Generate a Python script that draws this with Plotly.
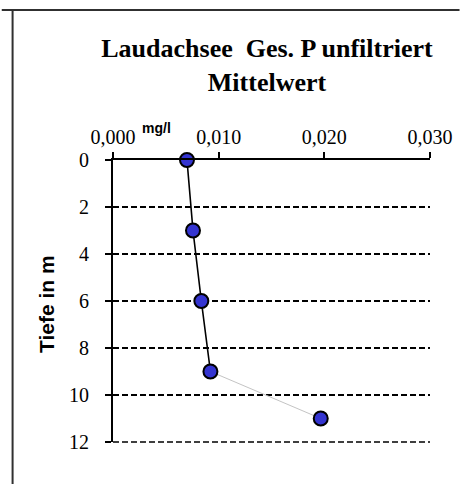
import plotly.graph_objects as go

# Data
depth_m = [0, 3, 6, 9, 11]
p_mgl = [0.0070, 0.00757, 0.00836, 0.00922, 0.01966]
x_ticks = [0.0, 0.01, 0.02, 0.03]
y_ticks = [0, 2, 4, 6, 8, 10, 12]
title_text = "<b>Laudachsee  Ges. P unfiltriert<br>Mittelwert</b>"
unit_text = "<b>mg/l</b>"
ytitle_text = "<b>Tiefe in m</b>"

SERIF = "Liberation Serif, Times New Roman, serif"
SANS = "Liberation Sans, Arial, sans-serif"

W, H = 465, 484
L, R, T, B = 113, 30, 160, 42
pw, ph = W - L - R, H - T - B

def px_to_paper_x(px):
    return (px - L) / pw

def px_to_paper_y(py):
    return (H - B - py) / ph

fig = go.Figure()

# black line through first four points
fig.add_trace(go.Scatter(x=p_mgl[:4], y=depth_m[:4], mode="lines",
                         line=dict(color="black", width=1.6), hoverinfo="skip",
                         showlegend=False))
# light grey segment to the last point
fig.add_trace(go.Scatter(x=p_mgl[3:], y=depth_m[3:], mode="lines",
                         line=dict(color="#c4c4c4", width=1), hoverinfo="skip",
                         showlegend=False))
# markers
fig.add_trace(go.Scatter(x=p_mgl, y=depth_m, mode="markers",
                         marker=dict(size=14, color="#3434d0", symbol="circle",
                                     line=dict(color="black", width=2)),
                         showlegend=False, cliponaxis=False))

fig.update_layout(
    width=W, height=H,
    margin=dict(l=L, r=R, t=T, b=B, pad=0),
    paper_bgcolor="white", plot_bgcolor="white",
    separators=",.",
    showlegend=False,
    title=dict(text=title_text, x=267 / W, xanchor="center", xref="container",
               y=1 - 57 / H, yanchor="top",
               font=dict(family=SERIF, size=26, color="black")),
    xaxis=dict(side="top", range=[0, 0.03], tickvals=x_ticks, tickformat=".3f",
               showgrid=False, zeroline=False, showline=True, linecolor="black",
               linewidth=2, ticks="outside", ticklen=6, tickwidth=1.5,
               tickcolor="black",
               tickfont=dict(family=SERIF, size=20, color="black"),
               fixedrange=True),
    yaxis=dict(range=[y_ticks[-1], y_ticks[0]], tickvals=y_ticks, showgrid=True,
               gridcolor="black", gridwidth=1.5, griddash="6px,3px",
               zeroline=False, showline=True, linecolor="black", linewidth=2,
               ticks="outside", ticklen=6, tickwidth=1.5, tickcolor="black",
               ticklabelstandoff=12,
               tickfont=dict(family=SERIF, size=20, color="black"),
               fixedrange=True),
    annotations=[
        dict(text=unit_text, xref="paper", yref="paper",
             x=px_to_paper_x(157), y=px_to_paper_y(128), xanchor="center",
             yanchor="middle", showarrow=False,
             font=dict(family=SANS, size=14, color="black")),
        dict(text=ytitle_text, xref="paper", yref="paper",
             x=px_to_paper_x(45), y=px_to_paper_y(304), xanchor="center",
             yanchor="middle", textangle=-90, showarrow=False,
             font=dict(family=SANS, size=21, color="black")),
    ],
    shapes=[
        # gridline on the bottom edge of the plot (the last y tick), which
        # plotly itself drops because it sits on the range edge
        dict(type="line", xref="paper", yref="paper", layer="above",
             x0=0, x1=1, y0=0, y1=0,
             line=dict(color="black", width=1.5, dash="6px,3px")),
        dict(type="line", xref="paper", yref="paper",
             x0=px_to_paper_x(0), x1=px_to_paper_x(W), y0=px_to_paper_y(10),
             y1=px_to_paper_y(10), line=dict(color="#303030", width=2)),
        dict(type="line", xref="paper", yref="paper",
             x0=px_to_paper_x(11), x1=px_to_paper_x(11), y0=px_to_paper_y(10),
             y1=px_to_paper_y(H), line=dict(color="#303030", width=2)),
    ],
)

fig.write_html("out.html", config={"displayModeBar": False},
               post_script="document.body.style.margin='0';document.body.style.overflow='hidden';")
